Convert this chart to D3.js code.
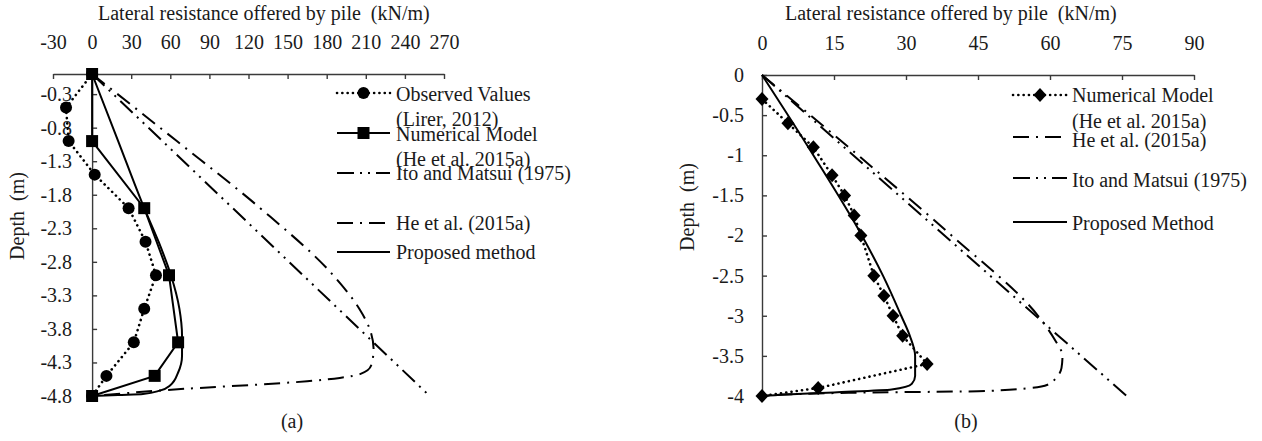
<!DOCTYPE html>
<html lang="en">

<head>
    <meta charset="utf-8">
    <title>Lateral resistance offered by pile</title>
    <script src="https://cdn.jsdelivr.net/npm/d3@7"></script>
    <style type="text/css">
    body {
        margin: 0;
        background: #fff;
    }

    svg text {
        font-family: "Liberation Serif", "Times New Roman", serif;
        font-size: 20px;
        fill: #1a1a1a;
        white-space: pre;
    }

    .axis path,
    .axis line {
        fill: none;
        stroke: #3a3a3a;
        stroke-width: 1.4;
    }

    .axis text {
        font-family: "Liberation Serif", "Times New Roman", serif;
        font-size: 20px;
    }
    </style>
</head>

<body>
    <script type="text/javascript">
    // ---------- panel (a) ----------
    var xTicksA = [-30, 0, 30, 60, 90, 120, 150, 180, 210, 240, 270];
    var yTicksA = [-0.3, -0.8, -1.3, -1.8, -2.3, -2.8, -3.3, -3.8, -4.3, -4.8];

    // Observed Values (Lirer, 2012)
    var depthObsA = [0, -0.5, -1, -1.5, -2, -2.5, -3, -3.5, -4, -4.5, -4.8];
    var obsA = [0, -20, -18, 2, 28, 41, 49, 40, 32, 11, 0];

    // Numerical Model (He et al. 2015a)
    var depthNumA = [0, -1, -2, -3, -4, -4.5, -4.8];
    var numA = [0, 0, 40, 59, 66, 48, 0];

    // Ito and Matsui (1975)
    var depthItoA = [0, -4.8];
    var itoA = [0, 259];

    // He et al. (2015a)
    var depthHeA = [0, -1, -2, -3, -3.5, -3.8, -4.1, -4.35, -4.47, -4.53, -4.58, -4.71, -4.8];
    var heA = [0, 65, 129, 185, 205, 213, 216, 214, 206, 190, 165, 58, 0];

    // Proposed method
    var depthPropA = [0, -1, -2, -2.5, -3, -3.5, -3.9, -4.2, -4.45, -4.64, -4.72, -4.77, -4.785, -4.8];
    var propA = [0, 20, 40, 51, 60.5, 67, 69, 69, 66, 60, 52, 39, 20, 0];

    var legendA = ["Observed Values", "(Lirer, 2012)", "Numerical Model", "(He et al. 2015a)",
        "Ito and Matsui (1975)", "He et al. (2015a)", "Proposed method"];

    // ---------- panel (b) ----------
    var xTicksB = [0, 15, 30, 45, 60, 75, 90];
    var yTicksB = [0, -0.5, -1, -1.5, -2, -2.5, -3, -3.5, -4];

    // Numerical Model (He et al. 2015a)
    var depthNumB = [-0.3, -0.6, -0.9, -1.25, -1.5, -1.75, -2, -2.5, -2.75, -3, -3.25, -3.6, -3.9, -4];
    var numB = [0, 5.4, 10.7, 14.6, 17.2, 19.2, 20.6, 23.3, 25.4, 27.3, 29.3, 34.4, 11.7, 0];

    // He et al. (2015a)
    var depthHeB = [0, -1, -2, -3, -3.3, -3.5, -3.65, -3.78, -3.86, -3.9, -3.94, -3.96, -4];
    var heB = [0, 20, 39.5, 57.5, 61, 62.6, 62.4, 61.2, 59.5, 56, 45, 18, 0];

    // Ito and Matsui (1975)
    var depthItoB = [0, -4];
    var itoB = [0, 76];

    // Proposed Method
    var depthPropB = [0, -1, -2, -2.5, -3, -3.25, -3.5, -3.75, -3.85, -3.92, -3.955, -3.98, -4];
    var propB = [0, 10.7, 20.8, 25.2, 29, 30.8, 31.9, 31.9, 31.2, 27, 15, 5, 0];

    var legendB = ["Numerical Model", "(He et al. 2015a)", "He et al. (2015a)",
        "Ito and Matsui (1975)", "Proposed Method"];

    var axisTitle = "Lateral resistance offered by pile  (kN/m)";
    var depthTitle = "Depth  (m)";

    // line styles
    var dotted = "0.1,5.2";
    var dashDot = "16,7,2,7";
    var dashDotDot = "17,6,2,6,2,6";

    var svg = d3.select("body")
        .append("svg")
        .attr("width", 1262)
        .attr("height", 441);

    // one panel: scales, axes, titles
    function makePanel(p) {
        var x = d3.scaleLinear().domain(p.xDomain).range(p.xRange);
        var y = d3.scaleLinear().domain(p.yDomain).range(p.yRange);
        var g = svg.append("g");

        g.append("g")
            .attr("class", "axis")
            .attr("transform", "translate(0," + p.yRange[0] + ")")
            .call(d3.axisTop(x)
                .tickValues(p.xTicks)
                .tickSizeInner(-5)
                .tickSizeOuter(0)
                .tickPadding(25)
                .tickFormat(function(d) { return String(d); }));

        g.append("g")
            .attr("class", "axis")
            .attr("transform", "translate(" + x(0) + ",0)")
            .call(d3.axisLeft(y)
                .tickValues(p.yTicks)
                .tickSizeInner(-5)
                .tickSizeOuter(0)
                .tickPadding(p.yPad)
                .tickFormat(function(d) { return String(d); }));

        g.selectAll(".axis text").attr("fill", "#1a1a1a");

        g.append("text")
            .attr("x", p.titleX)
            .attr("y", 20)
            .text(axisTitle);

        g.append("text")
            .attr("transform", "translate(" + p.depthX + "," + p.depthY + ") rotate(-90)")
            .attr("text-anchor", "middle")
            .text(depthTitle);

        g.append("text")
            .attr("x", p.labelX)
            .attr("y", 428)
            .attr("text-anchor", "middle")
            .text(p.label);

        return { g: g, x: x, y: y };
    }

    function drawSeries(pn, values, depths, dash, curve) {
        var pts = d3.zip(values, depths);
        var line = d3.line()
            .x(function(d) { return pn.x(d[0]); })
            .y(function(d) { return pn.y(d[1]); })
            .curve(curve || d3.curveLinear);
        pn.g.append("path")
            .datum(pts)
            .attr("d", line)
            .attr("fill", "none")
            .attr("stroke", "#000")
            .attr("stroke-width", dash == dotted ? 2.6 : 2)
            .attr("stroke-linecap", dash == dotted ? "round" : "butt")
            .attr("stroke-dasharray", dash || null);
        return pts;
    }

    function drawMarkers(pn, pts, shape) {
        pn.g.selectAll(null)
            .data(pts)
            .enter()
            .append("path")
            .attr("transform", function(d) { return "translate(" + pn.x(d[0]) + "," + pn.y(d[1]) + ")"; })
            .attr("d", shape)
            .attr("fill", "#000");
    }

    var circleShape = "M-6,0A6,6 0 1,0 6,0A6,6 0 1,0 -6,0Z";
    var squareShape = "M-6,-6H6V6H-6Z";
    var diamondShape = "M0,-7L6.5,0L0,7L-6.5,0Z";

    function legendLine(g, x1, x2, y, dash, shape) {
        g.append("line")
            .attr("x1", x1).attr("x2", x2)
            .attr("y1", y).attr("y2", y)
            .attr("stroke", "#000")
            .attr("stroke-width", dash == dotted ? 2.6 : 2)
            .attr("stroke-linecap", dash == dotted ? "round" : "butt")
            .attr("stroke-dasharray", dash || null);
        if (shape) {
            g.append("path")
                .attr("transform", "translate(" + (x1 + x2) / 2 + "," + y + ")")
                .attr("d", shape)
                .attr("fill", "#000");
        }
    }

    function legendText(g, x, yc, txt) {
        g.append("text")
            .attr("x", x)
            .attr("y", yc)
            .attr("dy", "0.34em")
            .text(txt);
    }

    /******** PANEL (a) ************/
    var pa = makePanel({
        xDomain: [-30, 270], xRange: [53, 444],
        yDomain: [0, -4.8], yRange: [74, 396],
        xTicks: xTicksA, yTicks: yTicksA, yPad: 20,
        titleX: 98, depthX: 24, depthY: 216, labelX: 292, label: "(a)"
    });

    drawSeries(pa, itoA, depthItoA, dashDotDot);
    drawSeries(pa, heA, depthHeA, dashDot, d3.curveMonotoneY);
    drawSeries(pa, propA, depthPropA, null, d3.curveMonotoneY);
    drawMarkers(pa, drawSeries(pa, obsA, depthObsA, dotted), circleShape);
    drawMarkers(pa, drawSeries(pa, numA, depthNumA, null), squareShape);

    legendLine(pa.g, 337, 390, 93, dotted, circleShape);
    legendLine(pa.g, 337, 390, 133, null, squareShape);
    legendLine(pa.g, 337, 390, 173, dashDotDot);
    legendLine(pa.g, 337, 390, 223, dashDot);
    legendLine(pa.g, 337, 390, 252, null);
    var legendYA = [94, 119, 134, 159, 173, 223, 252];
    legendA.forEach(function(t, i) { legendText(pa.g, 396, legendYA[i], t); });

    /******** PANEL (b) ************/
    var pb = makePanel({
        xDomain: [0, 90], xRange: [762, 1194],
        yDomain: [0, -4], yRange: [75, 396],
        xTicks: xTicksB, yTicks: yTicksB, yPad: 18,
        titleX: 785, depthX: 694, depthY: 207, labelX: 966, label: "(b)"
    });

    drawSeries(pb, itoB, depthItoB, dashDotDot);
    drawSeries(pb, heB, depthHeB, dashDot, d3.curveMonotoneY);
    drawSeries(pb, propB, depthPropB, null, d3.curveMonotoneY);
    drawMarkers(pb, drawSeries(pb, numB, depthNumB, dotted), diamondShape);

    legendLine(pb.g, 1013, 1067, 95, dotted, diamondShape);
    legendLine(pb.g, 1013, 1067, 137, dashDot);
    legendLine(pb.g, 1013, 1067, 178, dashDotDot);
    legendLine(pb.g, 1013, 1067, 222, null);
    var legendYB = [95, 121, 140, 180, 223];
    legendB.forEach(function(t, i) { legendText(pb.g, 1072, legendYB[i], t); });
    </script>
</body>

</html>
